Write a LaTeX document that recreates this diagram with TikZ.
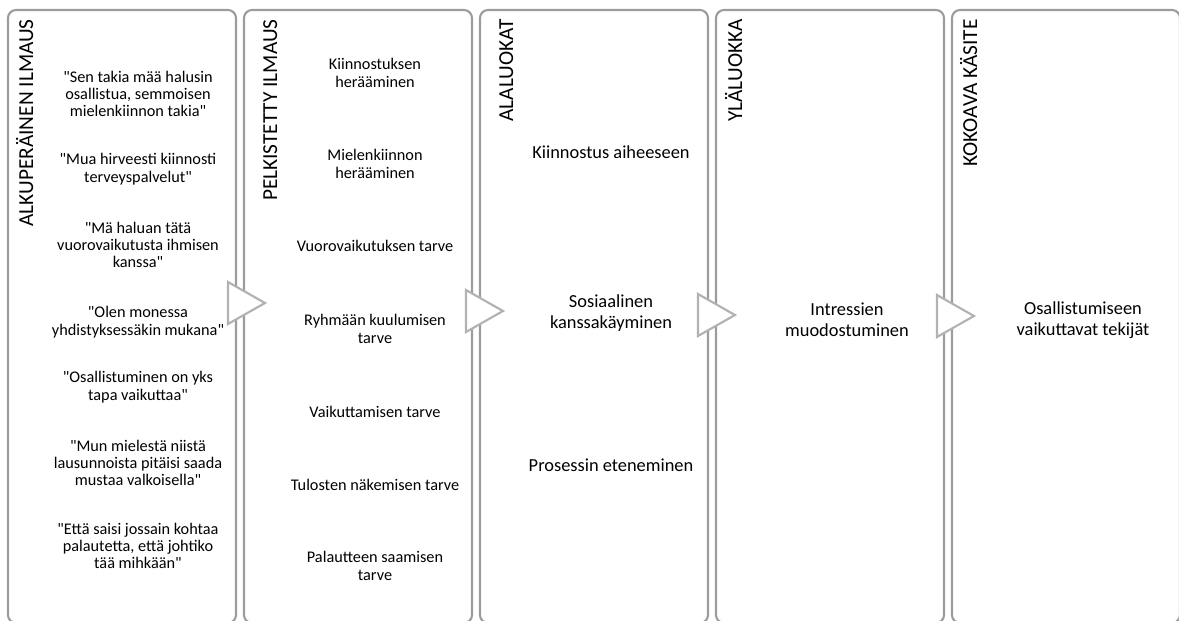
\documentclass[tikz,border=0pt]{standalone}
\usepackage{fontspec}
\newfontfamily\calfont{Carlito}
\usetikzlibrary{positioning}

\begin{document}
\begin{tikzpicture}[x=0.75pt,y=-0.75pt,node distance=177pt,on grid,
  panel/.style={draw=gray!78,line width=1.6pt,rounded corners=6pt,minimum width=171pt,minimum height=459.75pt,inner sep=0pt},
  heading/.style={rotate=90,anchor=base east,inner sep=0pt,font=\calfont\fontsize{16}{19}\selectfont},
  quote/.style={align=center,inner sep=0pt,font=\calfont\fontsize{12.2}{13}\selectfont},
  term/.style={align=center,inner sep=0pt,font=\calfont\fontsize{13.8}{15.75}\selectfont},
  chevron/.pic={\draw[gray!60,line width=1.6pt,fill=white,line join=miter] (0,-21) -- (37,0) -- (0,21) -- cycle;}]
  \useasboundingbox (0,0) rectangle (1179,621);
  \node[panel] (p_1) at (122,316.5) {};
  \node[panel] (p_2) [right=of p_1] {};
  \node[panel] (p_3) [right=of p_2] {};
  \node[panel] (p_4) [right=of p_3] {};
  \node[panel] (p_5) [right=of p_4] {};
  \pic at (228,303) {chevron};
  \pic at (466,311) {chevron};
  \pic at (698,315) {chevron};
  \pic at (937,316) {chevron};
  \node[heading] (h_1) at (33,19)  {ALKUPERÄINEN ILMAUS};
  \node[heading] (h_2) at (277,19) {PELKISTETTY ILMAUS};
  \node[heading] (h_3) at (513,19) {ALALUOKAT};
  \node[heading] (h_4) at (742,19) {YLÄLUOKKA};
  \node[heading] (h_5) at (977,19) {KOKOAVA KÄSITE};
  \node[quote] (o_1) at (138,94)  {"Sen takia mää halusin\\osallistua, semmoisen\\mielenkiinnon takia"};
  \node[quote] (o_2) at (138,169) {"Mua hirveesti kiinnosti\\terveyspalvelut"};
  \node[quote] (o_3) at (138,245) {"Mä haluan tätä\\vuorovaikutusta ihmisen\\kanssa"};
  \node[quote] (o_4) at (138,322) {"Olen monessa\\yhdistyksessäkin mukana"};
  \node[quote] (o_5) at (138,387) {"Osallistuminen on yks\\tapa vaikuttaa"};
  \node[quote] (o_6) at (138,463) {"Mun mielestä niistä\\lausunnoista pitäisi saada\\mustaa valkoisella"};
  \node[quote] (o_7) at (138,546) {"Että saisi jossain kohtaa\\palautetta, että johtiko\\tää mihkään"};
  \node[quote] (r_1) at (375,73)  {Kiinnostuksen\\herääminen};
  \node[quote] (r_2) at (375,164) {Mielenkiinnon\\herääminen};
  \node[quote] (r_3) at (375,246) {Vuorovaikutuksen tarve};
  \node[quote] (r_4) at (375,329) {Ryhmään kuulumisen\\tarve};
  \node[quote] (r_5) at (375,412) {Vaikuttamisen tarve};
  \node[quote] (r_6) at (375,485) {Tulosten näkemisen tarve};
  \node[quote] (r_7) at (375,566) {Palautteen saamisen\\tarve};
  \node[term] (s_1) at (611,152) {Kiinnostus aiheeseen};
  \node[term] (s_2) at (611,313) {Sosiaalinen\\kanssakäyminen};
  \node[term] (s_3) at (611,465) {Prosessin eteneminen};
  \node[term] (u_1) at (847,320) {Intressien\\muodostuminen};
  \node[term] (k_1) at (1083,320) {Osallistumiseen\\vaikuttavat tekijät};
\end{tikzpicture}
\end{document}
